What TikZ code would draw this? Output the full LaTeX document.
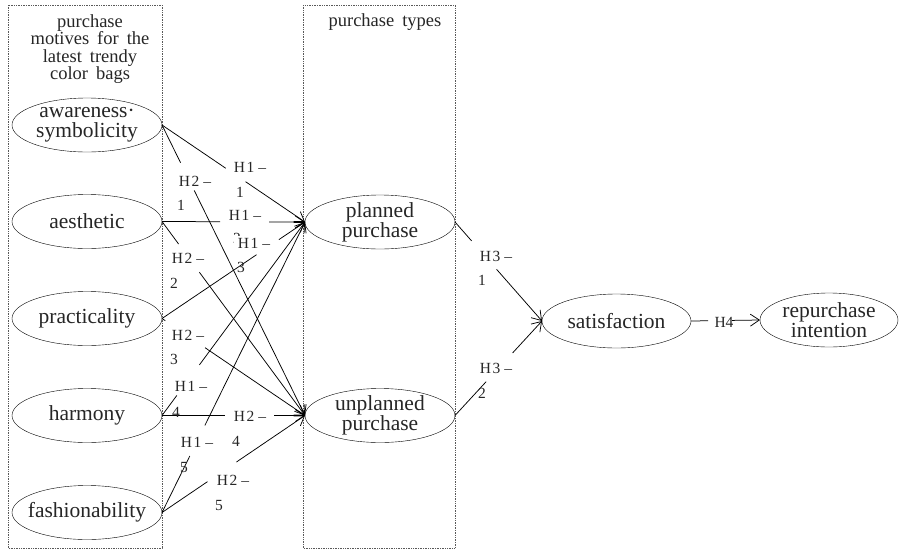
\documentclass[tikz,border=0pt]{standalone}
\usepackage{fontspec}
\setmainfont{Liberation Serif}
\usetikzlibrary{shapes.geometric,arrows.meta}
\newcommand\hlab[1]{H\hspace{1.5pt}#1\hspace{4pt}–}
\newcommand\ttlfont{\fontsize{18.5}{17.6}\selectfont\spaceskip=8pt plus 1pt\relax}
\begin{document}
\begin{tikzpicture}[x=1pt,y=-1pt,
  ell/.style={draw, ellipse, minimum width=150pt, minimum height=54pt, inner xsep=-16pt, inner ysep=-3pt, outer sep=0pt, align=center, text=black!85, font=\fontsize{21.5}{20}\selectfont},
  box/.style={draw=black!65, densely dotted, line width=0.7pt},
  arr/.style={-{Straight Barb[length=9pt,width=12pt]}, line width=0.75pt},
  hl/.style={inner sep=1.5pt, text=black!85, font=\fontsize{15.5}{15.5}\selectfont},
  hlw/.style={hl, fill=white, inner xsep=4pt},
  hn/.style={inner sep=0pt, text=black!85, font=\fontsize{15.5}{15.5}\selectfont},
  ttl/.style={align=center, text=black!85, font=\ttlfont}
]
\useasboundingbox (0,0) rectangle (900,550);
% dotted frames
\draw[box] (8,5) rectangle (162,548);
\draw[box] (303,5) rectangle (455,548);
% titles
\node[ttl] (t1) at (90,49) {purchase\\motives for the\\latest trendy\\color bags};
\node[ttl] (t2) at (385,22) {purchase types};
% constructs
\node[ell] (aw) at (87,125) {awareness·\\symbolicity};
\node[ell] (ae) at (87,221.5) {aesthetic};
\node[ell] (pr) at (87,318.5) {practicality};
\node[ell] (ha) at (87,415.5) {harmony};
\node[ell] (fa) at (87,512.5) {fashionability};
\node[ell] (pl) at (380,222) {planned\\purchase};
\node[ell] (un) at (380,415.5) {unplanned\\purchase};
\node[ell, minimum width=149pt] (sa) at (616.5,321) {satisfaction};
\node[ell, minimum width=138pt] (rp) at (829,320) {repurchase\\intention};
% paths (gaps where the labels sit)
\draw[arr, dash pattern=on 77pt off 24pt on 600pt] (aw.east) -- (pl.west);
\draw[arr, dash pattern=on 42pt off 31pt on 600pt] (aw.east) -- (un.west);
\draw[arr, dash pattern=on 58pt off 49pt on 600pt] (ae.east) -- (pl.west);
\draw[arr, dash pattern=on 28pt off 35pt on 600pt] (ae.east) -- (un.west);
\draw[arr, dash pattern=on 114pt off 27pt on 600pt] (pr.east) -- (pl.west);
\draw[arr, dash pattern=on 4pt off 48pt on 600pt] (pr.east) -- (un.west);
\draw[arr, dash pattern=on 25pt off 38pt on 600pt] (ha.east) -- (pl.west);
\draw[arr, dash pattern=on 63pt off 49pt on 600pt] (ha.east) -- (un.west);
\draw[arr, dash pattern=on 63pt off 34pt on 600pt] (fa.east) -- (pl.west);
\draw[arr, dash pattern=on 55pt off 35pt on 600pt] (fa.east) -- (un.west);
\draw[arr, dash pattern=on 25pt off 38pt on 600pt] (pl.east) -- (sa.west);
\draw[arr, dash pattern=on 46pt off 39pt on 600pt] (un.east) -- (sa.west);
\draw[arr, dash pattern=on 17pt off 24pt on 600pt] (sa.east) -- (rp.west);
% labels
\node[hl] (l11) at (250,167) {\hlab{1}};
\node[hn] (n11) at (240,192) {1};
\node[hl] (l21) at (195,181) {\hlab{2}};
\node[hn] (n21) at (181,205) {1};
\node[hl] (l12) at (245,215) {\hlab{1}};
\node[hn] (n12) at (237,238) {2};
\node[hlw] (l13) at (254,243) {\hlab{1}};
\node[hn] (n13) at (241,267) {3};
\node[hl] (l22) at (188,258) {\hlab{2}};
\node[hn] (n22) at (174,283) {2};
\node[hl] (l23) at (188,335) {\hlab{2}};
\node[hn] (n23) at (174,359) {3};
\node[hl] (l14) at (191,386) {\hlab{1}};
\node[hn] (n14) at (176,412) {4};
\node[hl] (l15) at (197,442) {\hlab{1}};
\node[hn] (n15) at (184,467) {5};
\node[hl] (l24) at (250,416) {\hlab{2}};
\node[hn] (n24) at (236,441) {4};
\node[hl] (l25) at (233,480) {\hlab{2}};
\node[hn] (n25) at (219,505) {5};
\node[hl] (l31) at (496,256) {\hlab{3}};
\node[hn] (n31) at (482,280) {1};
\node[hl] (l32) at (496,368) {\hlab{3}};
\node[hn] (n32) at (482,393) {2};
\node[hl] (l4) at (724,322) {H4};
\end{tikzpicture}
\end{document}
